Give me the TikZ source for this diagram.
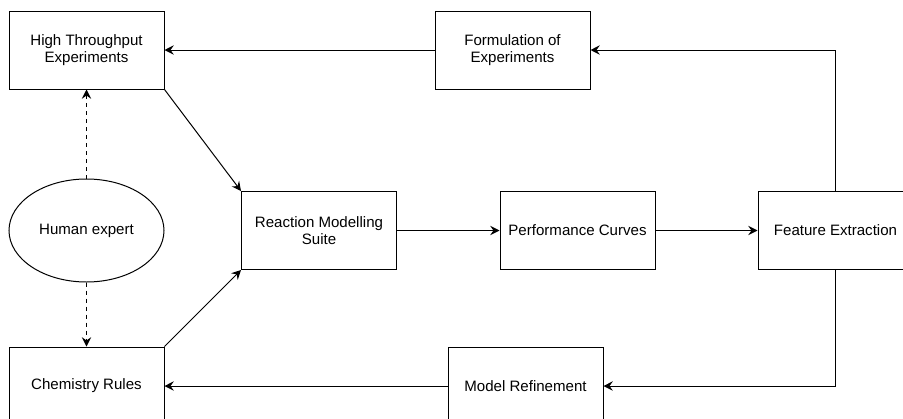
\documentclass[tikz,border=0pt]{standalone}
\usepackage{fontspec}
\setmainfont{Liberation Sans}
\usepackage{tikz}
\usetikzlibrary{arrows.meta,shapes.geometric,calc,positioning}

\begin{document}
\begin{tikzpicture}[x=0.75pt,y=-0.75pt,line width=0.75pt,
  every node/.style={font=\fontsize{11.3}{12.75}\selectfont, align=center},
  box/.style={draw, minimum width=116.25pt, minimum height=58.5pt, inner sep=1pt},
  human/.style={draw, ellipse, minimum width=116.25pt, minimum height=77.25pt, inner sep=1pt},
  flow/.style={-{Stealth[length=7pt,width=7pt,inset=2.5pt]}},
  hint/.style={flow, dashed}]
\useasboundingbox (0,0) rectangle (903,418);

\node[box] (hte) at (86.5,50) {High Throughput\\Experiments};
\node[box] (form) at (512.5,50) {Formulation of\\Experiments};
\node[human] (expert) at (86.5,230.5) {Human expert};
\node[box] (rms) at (319,230.5) {Reaction Modelling\\Suite};
\node[box] (perf) at (577.5,230.5) {Performance Curves};
\node[box] (feat) at (835.5,230.5) {Feature Extraction};
\node[box] (rules) at (86.5,386) {Chemistry Rules};
\node[box] (refine) at (525.5,386) {Model Refinement};

\draw[flow] (form) -- (hte);
\draw[flow] (feat.north) |- (form.east);
\draw[flow] (hte.south east) -- (rms.north west);
\draw[flow] (rules.north east) -- (rms.south west);
\draw[flow] (rms) -- (perf);
\draw[flow] (perf) -- (feat);
\draw[flow] (feat.south) |- (refine.east);
\draw[flow] (refine) -- (rules);

\draw[hint] (expert) -- (hte);
\draw[hint] (expert) -- (rules);

\end{tikzpicture}
\end{document}
